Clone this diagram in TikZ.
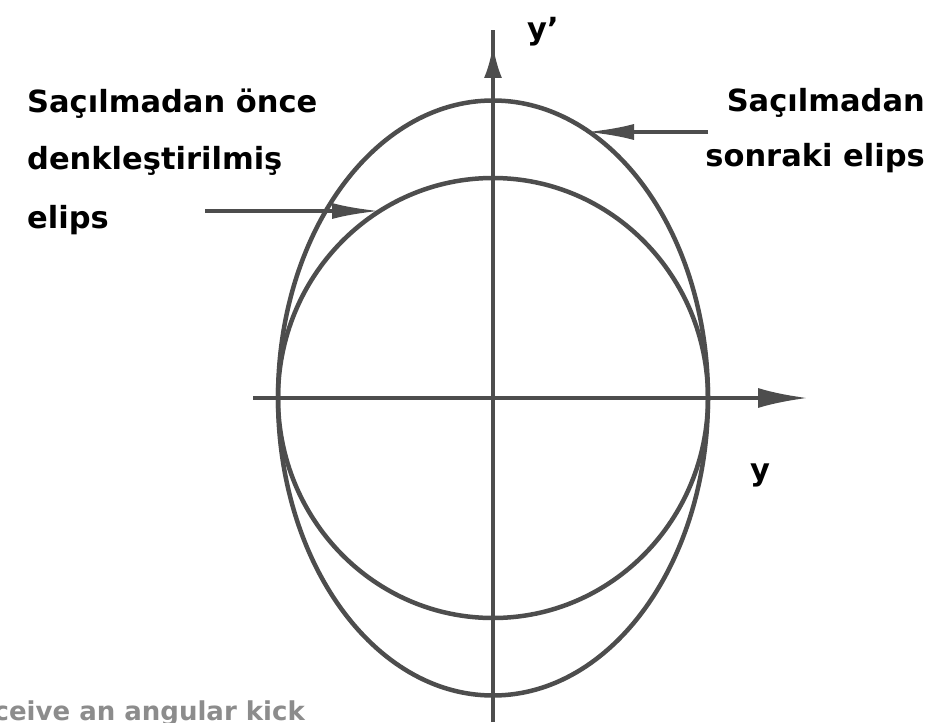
\documentclass[tikz,border=0pt]{standalone}
\usepackage{fontspec}
\setmainfont{DejaVu Sans}
\usetikzlibrary{arrows.meta,decorations.markings}
\definecolor{ink}{HTML}{4D4D4D}
\definecolor{note}{HTML}{8C8C8C}
\begin{document}
\begin{tikzpicture}[x=1pt,y=-1pt,
  curve/.style={draw=ink,line width=4.5pt},
  axis/.style={draw=ink,line width=4pt},
  pointer/.style={draw=ink,line width=4pt,-{Latex[length=48pt,width=16pt]}},
  lab/.style={font=\fontsize{30.5}{36}\bfseries\selectfont, text=black, inner sep=0pt},
  notelab/.style={font=\fontsize{26}{30}\bfseries\selectfont, text=note, inner sep=0pt},
]
\useasboundingbox (0,0) rectangle (949,722);
\fill[white] (0,0) rectangle (949,722);

\coordinate (O) at (493,398);
\coordinate (yb) at (493,722);
\coordinate (yt) at (493,30);
\coordinate (xl) at (253,398);
\coordinate (xr) at (808,398);

% ellipses
\draw[curve] (O) ellipse [x radius=215, y radius=297.5];
\draw[curve] (O) ellipse [x radius=215, y radius=220];

% axes
\draw[axis,-{Latex[length=50pt,width=20pt]}] (xl) -- (xr);
\draw[axis,postaction={decorate},
  decoration={markings, mark=at position 677pt with {\arrow{Latex[length=33pt,width=18pt]}}}]
  (yb) -- (yt);

% pointers
\coordinate (la) at (205,211);
\coordinate (lt) at (380,211);
\coordinate (ra) at (708,132);
\coordinate (rt) at (586,132);
\draw[pointer] (la) -- (lt);
\draw[pointer] (ra) -- (rt);

% labels
\node[lab, anchor=base west] (b1) at (27,113) {Saçılmadan önce};
\node[lab, anchor=base west] (b2) at (27,170) {denkleştirilmiş};
\node[lab, anchor=base west] (b3) at (27,228) {elips};
\node[lab, anchor=base east] (a1) at (925,112) {Saçılmadan};
\node[lab, anchor=base east] (a2) at (925,167) {sonraki elips};
\node[lab, anchor=base west] (yp) at (527,40) {y’};
\node[lab, anchor=base west] (yl) at (750,480) {y};
\node[notelab, anchor=base east] (kick) at (305,720) {ceive an angular kick};
\end{tikzpicture}
\end{document}
